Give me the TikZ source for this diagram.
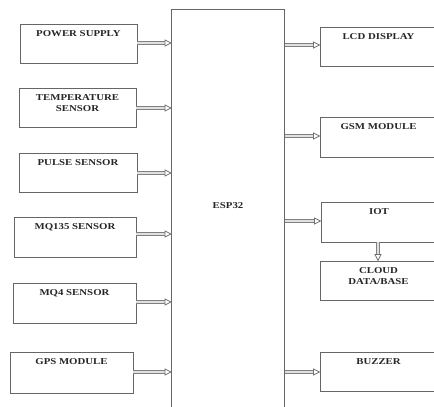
\documentclass[tikz,border=0pt]{standalone}
\usepackage{fontspec}
\setmainfont{Liberation Serif}
\newcommand{\wlbl}[1]{\scalebox{1.2}[1]{#1}}
\tikzset{
  blk/.style={draw=black!60, line width=0.9pt, rectangle, inner sep=0pt},
  lbl/.style={anchor=north, inner sep=0pt, font=\fontsize{9}{11.5}\selectfont\bfseries, align=center, text=black!85},
  shaft/.style={draw=black!50, line width=3.6pt, shorten >=5pt, postaction={draw=black!12, line width=1.6pt}},
  tipst/.style={draw=black!55, line width=0.8pt, fill=white, line join=miter}
}
\begin{document}
\begin{tikzpicture}[x=1pt,y=-1pt]
\useasboundingbox (0,0) rectangle (434,407);
\fill[white] (0,0) rectangle (434,407);
% left boxes
\node[blk, minimum width=117, minimum height=39] (ps) at (78.5,43.5) {};
\node[blk, minimum width=117, minimum height=39] (tmp) at (77.5,107.5) {};
\node[blk, minimum width=118, minimum height=39] (pul) at (78,172.5) {};
\node[blk, minimum width=122, minimum height=40] (mq1) at (75,237) {};
\node[blk, minimum width=123, minimum height=40] (mq4) at (74.5,303) {};
\node[blk, minimum width=123, minimum height=41] (gps) at (71.5,372.5) {};
% right boxes
\node[blk, minimum width=117, minimum height=39] (lcd) at (378.5,46.5) {};
\node[blk, minimum width=117, minimum height=40] (gsm) at (378.5,137) {};
\node[blk, minimum width=116, minimum height=40] (iot) at (379,222) {};
\node[blk, minimum width=117, minimum height=39] (cld) at (378.5,280.5) {};
\node[blk, minimum width=117, minimum height=39] (buz) at (378.5,371.5) {};
% labels
\node[lbl] (psT) at ([yshift=-6.7]ps.north) {\wlbl{POWER SUPPLY}};
\node[lbl] (tmpT) at ([yshift=-6.5]tmp.north) {\wlbl{TEMPERATURE}\\\wlbl{SENSOR}};
\node[lbl] (pulT) at ([yshift=-6.5]pul.north) {\wlbl{PULSE SENSOR}};
\node[lbl] (mq1T) at ([yshift=-6.5]mq1.north) {\wlbl{MQ135 SENSOR}};
\node[lbl] (mq4T) at ([yshift=-6.5]mq4.north) {\wlbl{MQ4 SENSOR}};
\node[lbl] (gpsT) at ([yshift=-6.5]gps.north) {\wlbl{GPS MODULE}};
\node[lbl] (lcdT) at ([yshift=-6.5]lcd.north) {\wlbl{LCD DISPLAY}};
\node[lbl] (gsmT) at ([yshift=-6.5]gsm.north) {\wlbl{GSM MODULE}};
\node[lbl] (iotT) at ([yshift=-6.5]iot.north) {\wlbl{IOT}};
\node[lbl] (cldT) at ([yshift=-6.5]cld.north) {\wlbl{CLOUD}\\\wlbl{DATA/BASE}};
\node[lbl] (buzT) at ([yshift=-6.5]buz.north) {\wlbl{BUZZER}};
% arrow end points
\coordinate (aps) at (171,43);
\coordinate (atmp) at (171,108);
\coordinate (apul) at (171,173);
\coordinate (amq1) at (171,234);
\coordinate (amq4) at (171,302);
\coordinate (agps) at (171,372);
\coordinate (blcd) at (284,45);
\coordinate (bgsm) at (284,136);
\coordinate (biot) at (284,221);
\coordinate (bbuz) at (284,372);
% arrows (shafts)
\draw[shaft] (ps.east |- aps) -- (aps);
\draw[shaft] (tmp.east |- atmp) -- (atmp);
\draw[shaft] (pul.east |- apul) -- (apul);
\draw[shaft] (mq1.east |- amq1) -- (amq1);
\draw[shaft] (mq4.east |- amq4) -- (amq4);
\draw[shaft] (gps.east |- agps) -- (agps);
\draw[shaft] (blcd) -- (lcd.west |- blcd);
\draw[shaft] (bgsm) -- (gsm.west |- bgsm);
\draw[shaft] (biot) -- (iot.west |- biot);
\draw[shaft] (bbuz) -- (buz.west |- bbuz);
\draw[shaft] (iot.south -| 378,0) -- (cld.north -| 378,0);
% arrow tips
\foreach \p in {aps,atmp,apul,amq1,amq4,agps}
  \draw[tipst] (\p) -- ++(-6,-3) -- ++(0,6) -- cycle;
\foreach \p in {lcd,gsm,iot,buz}
  \draw[tipst] (\p.west |- b\p) -- ++(-6,-3) -- ++(0,6) -- cycle;
\draw[tipst] (cld.north -| 378,0) -- ++(-3,-6) -- ++(6,0) -- cycle;
% ESP32
\node[blk, minimum width=113, minimum height=405, anchor=north west] (esp) at (171,9) {};
\node[lbl, anchor=center] (espT) at (228,205.5) {\wlbl{ESP32}};
\end{tikzpicture}
\end{document}
